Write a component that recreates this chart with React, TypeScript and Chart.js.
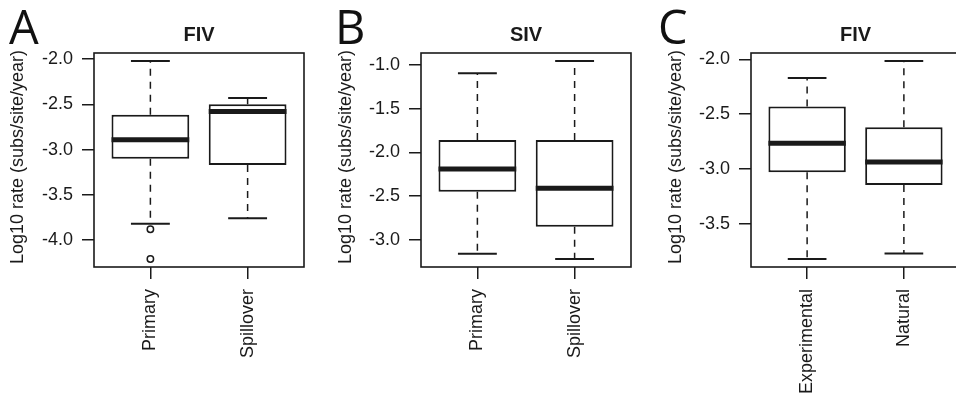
import React, { useEffect, useRef } from 'react';
import { Chart, registerables } from 'chart.js';

Chart.register(...registerables);

// ---------- data ----------
const panelLetters = ['A', 'B', 'C'];
const panelTitles = ['FIV', 'SIV', 'FIV'];
const yAxisTitle = 'Log10 rate (subs/site/year)';

const categoriesA = ['Primary', 'Spillover'];
const categoriesB = ['Primary', 'Spillover'];
const categoriesC = ['Experimental', 'Natural'];

const yTicksA = [-4.0, -3.5, -3.0, -2.5, -2.0];
const yTicksB = [-3.0, -2.5, -2.0, -1.5, -1.0];
const yTicksC = [-3.5, -3.0, -2.5, -2.0];

const lowerA = [-3.82, -3.76];
const q1A = [-3.10, -3.17];
const medianA = [-2.89, -2.58];
const q3A = [-2.615, -2.50];
const upperA = [-2.02, -2.43];
const outliersA = [[-3.88, -4.21], []];

const lowerB = [-3.16, -3.22];
const q1B = [-2.45, -2.85];
const medianB = [-2.19, -2.41];
const q3B = [-1.86, -1.86];
const upperB = [-1.095, -0.955];
const outliersB = [[], []];

const lowerC = [-3.82, -3.77];
const q1C = [-3.03, -3.145];
const medianC = [-2.765, -2.935];
const q3C = [-2.43, -2.62];
const upperC = [-2.17, -2.015];
const outliersC = [[], []];

// ---------- layout / style ----------
const H = 400;
const PLOT_TOP = 53;
const PLOT_BOTTOM = 267;
const INK = '#1a1a1a';
const FONT = '"Liberation Sans", Arial, Helvetica, sans-serif';

const LAYOUT = [
  { left: 0, width: 318, plotLeft: 94, plotRight: 304, letterX: 9, yTitleX: 18 },
  { left: 318, width: 327, plotLeft: 421, plotRight: 631, letterX: 335, yTitleX: 346 },
  { left: 645, width: 320, plotLeft: 751, plotRight: 960, letterX: 658, yTitleX: 676 },
];

type PanelData = {
  cats: string[];
  yTicks: number[];
  lower: number[];
  q1: number[];
  median: number[];
  q3: number[];
  upper: number[];
  outliers: number[][];
};

const PANELS: PanelData[] = [
  { cats: categoriesA, yTicks: yTicksA, lower: lowerA, q1: q1A, median: medianA, q3: q3A, upper: upperA, outliers: outliersA },
  { cats: categoriesB, yTicks: yTicksB, lower: lowerB, q1: q1B, median: medianB, q3: q3B, upper: upperB, outliers: outliersB },
  { cats: categoriesC, yTicks: yTicksC, lower: lowerC, q1: q1C, median: medianC, q3: q3C, upper: upperC, outliers: outliersC },
];

function Panel({ idx }: { idx: number }) {
  const ref = useRef<HTMLCanvasElement | null>(null);
  const lay = LAYOUT[idx];
  const d = PANELS[idx];

  useEffect(() => {
    if (!ref.current) return;
    const all = [...d.lower, ...d.upper, ...d.outliers.flat()];
    const lo = Math.min(...all);
    const hi = Math.max(...all);
    const ext = (hi - lo) * 0.04;
    const n = d.cats.length;
    const xExt = n * 0.04;

    const boxPlugin = {
      id: 'boxparts',
      afterDatasetsDraw(chart: any) {
        const ctx = chart.ctx;
        const y = chart.scales.y;
        const meta = chart.getDatasetMeta(0);
        ctx.save();
        ctx.strokeStyle = INK;
        meta.data.forEach((bar: any, i: number) => {
          const cx = bar.x;
          const w = bar.width;
          // whiskers (dashed)
          ctx.lineWidth = 1.5;
          ctx.setLineDash([7, 6]);
          ctx.beginPath();
          ctx.moveTo(cx, y.getPixelForValue(d.q3[i]));
          ctx.lineTo(cx, y.getPixelForValue(d.upper[i]));
          ctx.moveTo(cx, y.getPixelForValue(d.q1[i]));
          ctx.lineTo(cx, y.getPixelForValue(d.lower[i]));
          ctx.stroke();
          // staples
          ctx.setLineDash([]);
          ctx.lineWidth = 2;
          ctx.beginPath();
          ctx.moveTo(cx - w / 4, y.getPixelForValue(d.upper[i]));
          ctx.lineTo(cx + w / 4, y.getPixelForValue(d.upper[i]));
          ctx.moveTo(cx - w / 4, y.getPixelForValue(d.lower[i]));
          ctx.lineTo(cx + w / 4, y.getPixelForValue(d.lower[i]));
          ctx.stroke();
          // median
          ctx.lineWidth = 5;
          ctx.beginPath();
          ctx.moveTo(cx - w / 2, y.getPixelForValue(d.median[i]));
          ctx.lineTo(cx + w / 2, y.getPixelForValue(d.median[i]));
          ctx.stroke();
        });
        // frame
        const ca = chart.chartArea;
        ctx.lineWidth = 1.6;
        ctx.strokeRect(ca.left, ca.top, ca.right - ca.left, ca.bottom - ca.top);
        ctx.restore();
      },
      afterDraw(chart: any) {
        const ctx = chart.ctx;
        const ca = chart.chartArea;
        ctx.save();
        ctx.fillStyle = '#111';
        ctx.textAlign = 'left';
        ctx.textBaseline = 'alphabetic';
        ctx.font = '500 47px "Open Sans", "Noto Sans", sans-serif';
        ctx.fillText(panelLetters[idx], lay.letterX - lay.left, 44);
        ctx.fillStyle = INK;
        ctx.font = `bold 20px ${FONT}`;
        ctx.textAlign = 'center';
        ctx.fillText(panelTitles[idx], (ca.left + ca.right) / 2, 41);
        ctx.translate(lay.yTitleX - lay.left, 157);
        ctx.rotate(-Math.PI / 2);
        ctx.textBaseline = 'middle';
        ctx.font = `18px ${FONT}`;
        ctx.fillText(yAxisTitle, 0, 0);
        ctx.restore();
      },
    };

    const chart = new Chart(ref.current, {
      type: 'bar',
      data: {
        datasets: [
          {
            type: 'bar',
            data: d.cats.map((_, i) => ({ x: i + 1, y: [d.q1[i], d.q3[i]] })) as any,
            backgroundColor: '#ffffff',
            borderColor: INK,
            borderWidth: 2,
            borderSkipped: false,
            categoryPercentage: 0.8,
            barPercentage: 1,
          } as any,
          {
            type: 'scatter',
            data: d.outliers.flatMap((arr, i) => arr.map((v) => ({ x: i + 1, y: v }))),
            pointRadius: 3.2,
            pointBorderWidth: 1.5,
            pointBackgroundColor: 'rgba(0,0,0,0)',
            pointBorderColor: INK,
            showLine: false,
          } as any,
        ],
      },
      options: {
        responsive: false,
        animation: false,
        events: [],
        layout: {
          padding: { top: PLOT_TOP, right: lay.width - (lay.plotRight - lay.left), left: 0, bottom: 0 },
        },
        plugins: { legend: { display: false }, tooltip: { enabled: false }, title: { display: false } },
        scales: {
          x: {
            type: 'linear',
            min: 0.5 - xExt,
            max: n + 0.5 + xExt,
            offset: false,
            border: { display: false },
            grid: { offset: false, drawOnChartArea: false, drawTicks: true, tickLength: 12, color: INK, lineWidth: 1.5 },
            afterBuildTicks: (s: any) => {
              s.ticks = d.cats.map((_, i) => ({ value: i + 1 }));
            },
            afterFit: (s: any) => {
              s.height = H - PLOT_BOTTOM;
            },
            ticks: {
              autoSkip: false,
              minRotation: 90,
              maxRotation: 90,
              padding: 10,
              color: INK,
              font: { family: FONT, size: 18 },
              callback: (v: any) => d.cats[Math.round(Number(v)) - 1] ?? '',
            },
          },
          y: {
            type: 'linear',
            min: lo - ext,
            max: hi + ext,
            border: { display: false },
            grid: { drawOnChartArea: false, drawTicks: true, tickLength: 12, color: INK, lineWidth: 1.5 },
            afterBuildTicks: (s: any) => {
              s.ticks = d.yTicks.map((v) => ({ value: v }));
            },
            afterFit: (s: any) => {
              s.width = lay.plotLeft - lay.left;
            },
            ticks: {
              padding: 9,
              color: INK,
              font: { family: FONT, size: 18 },
              callback: (v: any) => Number(v).toFixed(1),
            },
          },
        },
      } as any,
      plugins: [boxPlugin],
    });
    return () => chart.destroy();
  }, [idx]);

  return (
    <div style={{ position: 'absolute', left: lay.left, top: 0, width: lay.width, height: H }}>
      <canvas ref={ref} width={lay.width} height={H} style={{ display: 'block', width: lay.width, height: H }} />
    </div>
  );
}

export default function App() {
  return (
    <div style={{ position: 'absolute', left: 0, top: 0, width: 956, height: H, overflow: 'hidden', background: '#fff' }}>
      {PANELS.map((_, i) => (
        <Panel key={i} idx={i} />
      ))}
    </div>
  );
}
